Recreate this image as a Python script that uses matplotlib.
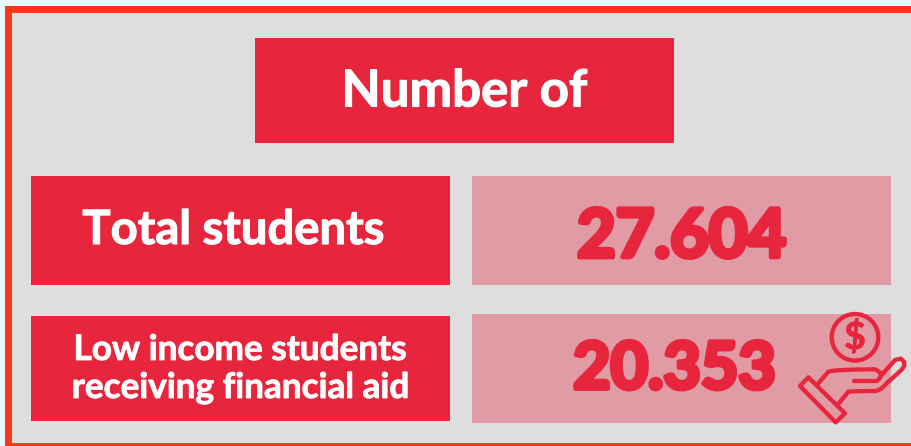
import matplotlib
matplotlib.use("Agg")
import matplotlib.pyplot as plt
import matplotlib.patheffects as pe
from matplotlib.patches import Rectangle, Circle, Polygon, PathPatch
from matplotlib.path import Path

title = "Number of"
row_labels = ["Total students", "Low income students\nreceiving financial aid"]
row_values = ["27.604", "20.353"]

RED = "#E7253D"
PINK = "#E09BA5"
BORDER = "#FB371B"
GREY = "#DEDEDE"
W, H = 911, 446


def box(ax, x0, y0, x1, y1, color):
    ax.add_patch(Rectangle((x0, y0), x1 - x0, y1 - y0, fc=color, ec="none"))


def label(ax, x, y, s, size, color="white", stroke=0.0, linespacing=1.2):
    t = ax.text(x, y, s, ha="center", va="center", fontsize=size, color=color,
                family="Lato", fontweight="bold", linespacing=linespacing)
    if stroke:
        t.set_path_effects([pe.withStroke(linewidth=stroke, foreground=color)])


def icon(ax):
    # zoom crop coordinates -> picture pixels
    z = lambda p: [(780 + a / 3, 300 + b / 3) for a, b in p]
    lw = 3.1
    ax.add_patch(Circle((855, 337.3), 23.3, fc="none", ec=RED, lw=lw))
    t = ax.text(855, 337, "$", ha="center", va="center", fontsize=27, color=RED,
                family="Lato", fontweight="bold")
    t.set_path_effects([pe.withStroke(linewidth=0.5, foreground=RED)])
    ax.add_patch(Polygon(z([(85, 232), (195, 340), (167, 367), (60, 258)]),
                         closed=True, fc="none", ec=RED, lw=lw, joinstyle="round"))
    M, L, C = Path.MOVETO, Path.LINETO, Path.CURVE3
    top = z([(115, 250), (145, 215), (165, 208), (285, 208), (318, 222), (290, 243), (222, 243)])
    ax.add_patch(PathPatch(Path(top, [M, L, C, L, C, C, L]), fc="none", ec=RED, lw=lw, capstyle="round"))
    low = z([(175, 312), (205, 275), (225, 273), (285, 273), (300, 273), (320, 250),
             (362, 212), (385, 190), (362, 176), (345, 180), (305, 225)])
    ax.add_patch(PathPatch(Path(low, [M, L, C, L, C, L, L, C, C, L, L]), fc="none", ec=RED, lw=lw, capstyle="round"))


fig = plt.figure(figsize=(W / 100, H / 100), dpi=100, facecolor="#EAF6FB")
ax = fig.add_axes([0, 0, 1, 1])
ax.set_xlim(0, W)
ax.set_ylim(H, 0)
ax.axis("off")

box(ax, 5, 6, W, H, BORDER)
box(ax, 11.5, 13, W, 443, GREY)

box(ax, 255, 38, 674, 143, RED)
label(ax, 464.5, 92, title, 36.7, stroke=0.8)

box(ax, 31, 176, 450, 285, RED)
box(ax, 472, 176, 891, 285, PINK)
label(ax, 233.5, 230, row_labels[0], 34, stroke=0.8)
label(ax, 681.5, 238, row_values[0], 48, color=RED, stroke=3.5)

box(ax, 31, 316, 450, 421, RED)
box(ax, 472, 314, 891, 423, PINK)
label(ax, 240, 369, row_labels[1], 25.3, stroke=0.6, linespacing=1.23)
label(ax, 674.5, 370, row_values[1], 46.5, color=RED, stroke=3.5)
icon(ax)

fig.savefig("out.png", dpi=100, facecolor=fig.get_facecolor())
